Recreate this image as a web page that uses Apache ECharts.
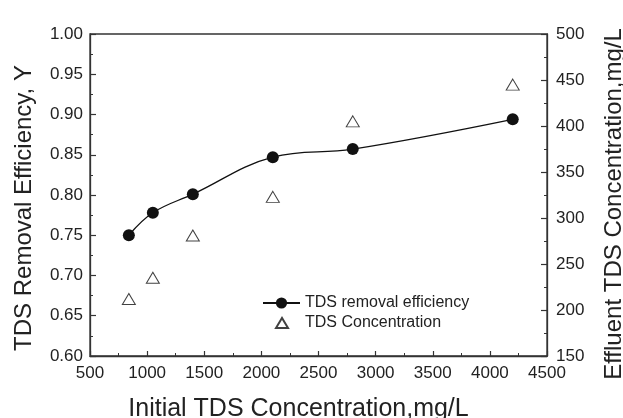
<!DOCTYPE html>
<html>
<head>
<meta charset="utf-8">
<script src="https://cdn.jsdelivr.net/npm/echarts@6/dist/echarts.min.js"></script>
<style>
html,body{margin:0;padding:0;background:#fff;}
#chart{width:623px;height:418px;}
</style>
</head>
<body>
<div id="chart"></div>
<script>
var initialTDS = [840, 1050, 1400, 2100, 2800, 4200];
var removalEfficiency = [0.750, 0.778, 0.801, 0.847, 0.857, 0.894];
var effluentConc = [212, 235, 281, 323, 405, 445];
var seriesNames = ['TDS removal efficiency', 'TDS Concentration'];
var xTitle = 'Initial TDS Concentration,mg/L';
var yLeftTitle = 'TDS Removal Efficiency, Y';
var yRightTitle = 'Effluent TDS Concentration,mg/L';

var FONT = '"Liberation Sans", Arial, sans-serif';
var AX = '#333';
var TXT = '#222';

function pairs(xs, ys){ return xs.map(function(x,i){ return [x, ys[i]]; }); }

var chart = echarts.init(document.getElementById('chart'), null, {renderer:'canvas'});
chart.setOption({
  animation: false,
  backgroundColor: '#fff',
  textStyle: {fontFamily: FONT},
  grid: {left: 90, right: 76, top: 34, bottom: 62, containLabel: false, outerBoundsMode: 'none',
         show: true, borderColor: AX, borderWidth: 1.3, backgroundColor: 'transparent'},
  legend: {
    orient: 'vertical', left: 257, top: 290, itemWidth: 37, itemHeight: 14, itemGap: 4,
    textStyle: {fontFamily: FONT, fontSize: 16, color: TXT},
    data: [
      {name: seriesNames[0]},
      {name: seriesNames[1], icon: 'path://M0,0M0,14M1,12L7,2L13,12Z'}
    ]
  },
  xAxis: {
    type: 'value', min: 500, max: 4500, interval: 500,
    name: xTitle, nameLocation: 'middle', nameGap: 41,
    nameTextStyle: {fontFamily: FONT, fontSize: 25, color: TXT, padding: [0, 40, 0, 0]},
    axisLine: {show: true, onZero: false, lineStyle: {color: AX, width: 1.3}},
    axisTick: {show: true, inside: true, length: 5, lineStyle: {color: AX, width: 1.2}},
    minorTick: {show: true, splitNumber: 2, length: 3, lineStyle: {color: AX, width: 1}},
    axisLabel: {fontFamily: FONT, fontSize: 17, color: TXT, margin: 9, formatter: function(v){ return String(v); }},
    splitLine: {show: false}
  },
  yAxis: [{
    type: 'value', min: 0.60, max: 1.00, interval: 0.05, position: 'left',
    name: yLeftTitle, nameLocation: 'middle', nameGap: 54, nameRotate: 90,
    nameTextStyle: {fontFamily: FONT, fontSize: 24, color: TXT, padding: [0, 26, 0, 0]},
    axisLine: {show: true, onZero: false, lineStyle: {color: AX, width: 1.3}},
    axisTick: {show: true, inside: true, length: 6, lineStyle: {color: AX, width: 1.2}},
    minorTick: {show: true, splitNumber: 2, length: 3, lineStyle: {color: AX, width: 1}},
    axisLabel: {fontFamily: FONT, fontSize: 17, color: TXT, margin: 7, formatter: function(v){ return v.toFixed(2); }},
    splitLine: {show: false}
  }, {
    type: 'value', min: 150, max: 500, interval: 50, position: 'right',
    name: yRightTitle, nameLocation: 'middle', nameGap: 55, nameRotate: 90,
    nameTextStyle: {fontFamily: FONT, fontSize: 24, color: TXT, padding: [0, 18, 0, 0]},
    axisLine: {show: true, onZero: false, lineStyle: {color: AX, width: 1.3}},
    axisTick: {show: true, inside: true, length: 6, lineStyle: {color: AX, width: 1.2}},
    minorTick: {show: true, splitNumber: 2, length: 3, lineStyle: {color: AX, width: 1}},
    axisLabel: {fontFamily: FONT, fontSize: 17, color: TXT, margin: 9},
    splitLine: {show: false}
  }],
  series: [{
    name: seriesNames[0], type: 'line', yAxisIndex: 0,
    data: pairs(initialTDS, removalEfficiency),
    smooth: 0.4,
    symbol: 'circle', symbolSize: 12,
    lineStyle: {color: '#111', width: 1.3},
    itemStyle: {color: '#111'}
  }, {
    name: seriesNames[1], type: 'scatter', yAxisIndex: 1,
    data: pairs(initialTDS, effluentConc),
    symbol: 'triangle', symbolSize: [13, 11],
    itemStyle: {color: '#fff', borderColor: '#111', borderWidth: 1}
  }]
});
</script>
</body>
</html>
